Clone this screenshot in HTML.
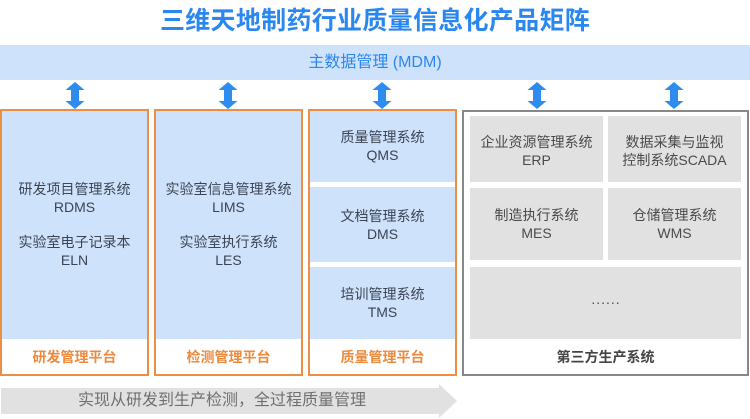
<!DOCTYPE html>
<html><head><meta charset="utf-8"><style>
*{margin:0;padding:0;box-sizing:border-box}
body{width:750px;height:419px;background:#fff;position:relative;overflow:hidden;font-family:"Liberation Sans","Noto Sans CJK SC",sans-serif}
.a{position:absolute}
.t{position:absolute;text-align:center;white-space:nowrap;line-height:18px;font-size:14px;color:#3b4453}
.box{position:absolute;border:2px solid #ef8d45;background:#fff}
.blue{position:absolute;background:#cfe2fb}
.foot{position:absolute;text-align:center;font-size:14px;color:#ef8a3c;line-height:18px;font-weight:bold}
.cell{position:absolute;background:#e1e1e1}
.g{color:#4a4a4a}
</style></head><body>
<div class="a" style="left:0;top:6px;width:750px;text-align:center;font-size:25px;font-weight:bold;color:#2b87f0;line-height:30px;letter-spacing:0.3px">三维天地制药行业质量信息化产品矩阵</div>
<div class="a" style="left:0;top:45px;width:750px;height:35px;background:#cfe2fb;text-align:center;line-height:35px;font-size:16px;color:#2b87f0">主数据管理 (MDM)</div>

<svg class="a" style="left:0;top:0" width="750" height="419">
<g fill="#2d8cf0">
<polygon points="75,82 84.5,90 79,90 79,101 84.5,101 75,109 65.5,101 71,101 71,90 65.5,90"/>
<polygon points="228,82 237.5,90 232,90 232,101 237.5,101 228,109 218.5,101 224,101 224,90 218.5,90"/>
<polygon points="382,82 391.5,90 386,90 386,101 391.5,101 382,109 372.5,101 378,101 378,90 372.5,90"/>
<polygon points="537,82 546.5,90 541,90 541,101 546.5,101 537,109 527.5,101 533,101 533,90 527.5,90"/>
<polygon points="674,82 683.5,90 678,90 678,101 683.5,101 674,109 664.5,101 670,101 670,90 664.5,90"/>
</g>
<polygon fill="#e1e1e1" points="1,388 439,388 439,384 457,401 439,418 439,414 1,414"/>
</svg>

<!-- Box 1 -->
<div class="box" style="left:0;top:109px;width:149px;height:267px">
  <div class="blue" style="left:0;top:0;width:145px;height:228px"></div>
</div>
<div class="t" style="left:0;top:180px;width:149px">研发项目管理系统<br>RDMS</div>
<div class="t" style="left:0;top:233px;width:149px">实验室电子记录本<br>ELN</div>
<div class="foot" style="left:0;top:348px;width:149px">研发管理平台</div>

<!-- Box 2 -->
<div class="box" style="left:154px;top:109px;width:149px;height:267px">
  <div class="blue" style="left:0;top:0;width:145px;height:228px"></div>
</div>
<div class="t" style="left:154px;top:180px;width:149px">实验室信息管理系统<br>LIMS</div>
<div class="t" style="left:154px;top:233px;width:149px">实验室执行系统<br>LES</div>
<div class="foot" style="left:154px;top:348px;width:149px">检测管理平台</div>

<!-- Box 3 -->
<div class="box" style="left:308px;top:109px;width:149px;height:267px">
  <div class="blue" style="left:0;top:0;width:145px;height:71px"></div>
  <div class="blue" style="left:0;top:76px;width:145px;height:75px"></div>
  <div class="blue" style="left:0;top:156px;width:145px;height:72px"></div>
</div>
<div class="t" style="left:308px;top:128px;width:149px">质量管理系统<br>QMS</div>
<div class="t" style="left:308px;top:207px;width:149px">文档管理系统<br>DMS</div>
<div class="t" style="left:308px;top:285px;width:149px">培训管理系统<br>TMS</div>
<div class="foot" style="left:308px;top:348px;width:149px">质量管理平台</div>

<!-- Box 4 -->
<div class="box" style="left:462px;top:110px;width:287px;height:266px;border-color:#888"></div>
<div class="cell" style="left:470px;top:116px;width:133px;height:66px"></div>
<div class="cell" style="left:608px;top:116px;width:133px;height:66px"></div>
<div class="cell" style="left:470px;top:188px;width:133px;height:72px"></div>
<div class="cell" style="left:608px;top:188px;width:133px;height:72px"></div>
<div class="cell" style="left:470px;top:267px;width:271px;height:72px"></div>
<div class="t g" style="left:470px;top:133px;width:133px">企业资源管理系统<br>ERP</div>
<div class="t g" style="left:608px;top:133px;width:133px">数据采集与监视<br>控制系统SCADA</div>
<div class="t g" style="left:470px;top:206px;width:133px">制造执行系统<br>MES</div>
<div class="t g" style="left:608px;top:206px;width:133px">仓储管理系统<br>WMS</div>
<div class="t g" style="left:470px;top:290px;width:271px;font-size:14px;letter-spacing:1px;padding-left:1px">......</div>
<div class="foot" style="left:462px;top:348px;width:287px;color:#444">第三方生产系统</div>

<div class="a" style="left:60px;top:391px;width:324px;text-align:center;font-size:16px;line-height:20px;color:#707070">实现从研发到生产检测，全过程质量管理</div>
</body></html>
